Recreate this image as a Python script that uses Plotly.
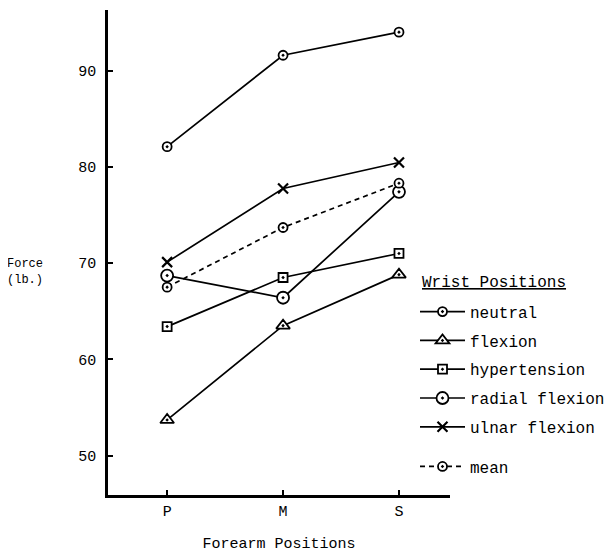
import plotly.graph_objects as go

positions = ["P", "M", "S"]
neutral = [82.1, 91.6, 94.0]
flexion = [53.7, 63.5, 68.8]
hypertension = [63.4, 68.5, 71.0]
radial_flexion = [68.7, 66.4, 77.4]
ulnar_flexion = [70.1, 77.75, 80.45]
mean = [67.5, 73.7, 78.3]
y_ticks = [50, 60, 70, 80, 90]

FONT = "Liberation Mono"
series = [
    ("neutral", neutral, "circle-dot", 9, "solid", "legend"),
    ("flexion", flexion, "triangle-up-dot", 12, "solid", "legend"),
    ("hypertension", hypertension, "square-dot", 9, "solid", "legend"),
    ("radial flexion", radial_flexion, "circle-dot", 12, "solid", "legend"),
    ("ulnar flexion", ulnar_flexion, "x-thin-open", 10, "solid", "legend"),
    ("mean", mean, "circle-dot", 9, "5px,4px", "legend2"),
]

fig = go.Figure()
for name, vals, sym, size, dash, leg in series:
    if sym == "x-thin-open":
        marker = dict(symbol=sym, size=size, color="black", line=dict(color="black", width=2.2))
    else:
        marker = dict(symbol=sym, size=size, color="white", line=dict(color="black", width=1.8))
    fig.add_trace(go.Scatter(
        x=positions, y=vals, name=name, mode="lines+markers",
        line=dict(color="black", width=1.7, dash=dash),
        marker=marker, legendgroup=name, legend=leg,
    ))

W, H = 606, 545
L, R, T, B = 100, 164, 2, 57.5
pw, ph = W - L - R, H - T - B


def px(x):
    return (x - L) / pw


def py(y):
    return (H - B - y) / ph


legend_common = dict(
    xanchor="left", yanchor="top",
    bgcolor="rgba(0,0,0,0)",
    font=dict(family=FONT, size=16, color="black"),
    traceorder="grouped", tracegroupgap=5,
    itemwidth=45,
)

fig.update_layout(
    width=W, height=H,
    margin=dict(l=L, r=R, t=T, b=B),
    paper_bgcolor="white", plot_bgcolor="white",
    font=dict(family=FONT, size=14, color="black"),
    showlegend=True,
    legend=dict(x=px(407), y=py(287), **legend_common),
    legend2=dict(x=px(407), y=py(442), **legend_common),
    xaxis=dict(
        type="category", range=[-0.51, 2.44], automargin=False,
        showline=True, linecolor="black", linewidth=2.5,
        ticks="inside", ticklen=5, tickwidth=1.5, tickcolor="black",
        showgrid=False, zeroline=False,
        title=dict(text="Forearm Positions", font=dict(family=FONT, size=15), standoff=22),
        tickfont=dict(family=FONT, size=15),
    ),
    yaxis=dict(
        range=[45.9, 96.3], tickvals=y_ticks, automargin=False,
        showline=True, linecolor="black", linewidth=2.5,
        ticks="inside", ticklen=5, tickwidth=1.5, tickcolor="black",
        showgrid=False, zeroline=False,
        ticklabelstandoff=6,
        tickfont=dict(family=FONT, size=15),
    ),
    annotations=[
        dict(text="Force<br>(lb.)", xref="paper", yref="paper",
             x=px(-3), y=py(264), xanchor="left", yanchor="middle",
             showarrow=False, align="left", font=dict(family=FONT, size=12)),
        dict(text="<span style='text-decoration:underline'>Wrist Positions</span>",
             xref="paper", yref="paper", x=px(412), y=py(275),
             xanchor="left", yanchor="middle", showarrow=False,
             font=dict(family=FONT, size=16)),
    ],
)

fig.write_html("out.html")
